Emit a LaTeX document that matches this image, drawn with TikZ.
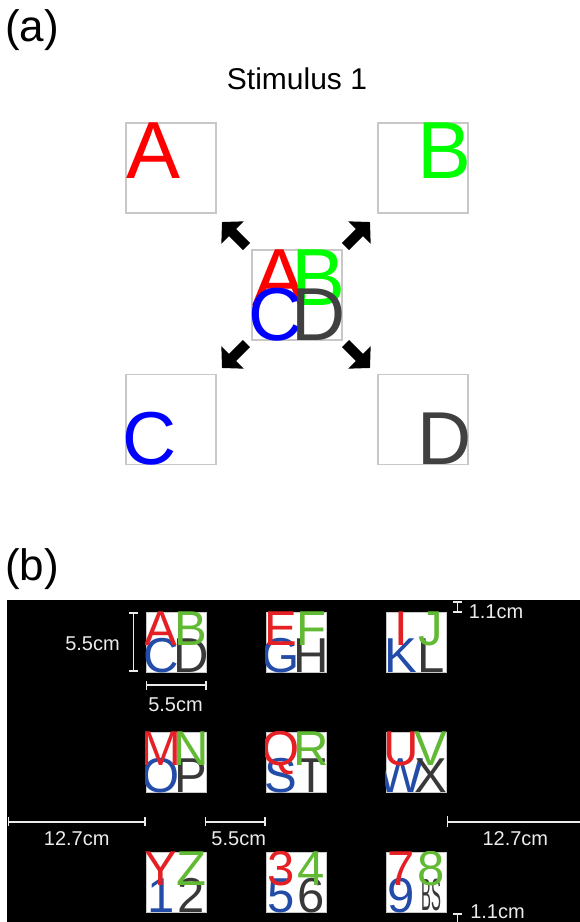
\documentclass[tikz,border=0pt]{standalone}
\usepackage{fontspec}
\usepackage{graphicx}
\setmainfont{Liberation Sans}
\usetikzlibrary{arrows.meta,calc}
\definecolor{ared}{RGB}{255,0,0}
\definecolor{agreen}{RGB}{0,255,0}
\definecolor{ablue}{RGB}{0,0,255}
\definecolor{adark}{RGB}{64,64,64}
\definecolor{bred}{RGB}{228,32,36}
\definecolor{bgreen}{RGB}{98,186,52}
\definecolor{bblue}{RGB}{34,76,168}
\definecolor{bdark}{RGB}{56,56,56}
\definecolor{boxgray}{RGB}{200,200,200}
\definecolor{dimwhite}{RGB}{235,235,235}
\newcommand\fsz[1]{\fontsize{#1}{#1}\selectfont}
\newcommand\mystim[7]{%
  \node[sbox] (#1) at (#2,#3) {};
  \begin{scope}
  \clip (#1.north west) rectangle (#1.south east);
  \node[blet, anchor=base,  text=bblue]  (#1bl) at ($(#1.south)+(-15,0)$) {#6};
  \node[blet, anchor=base,  text=bdark]  (#1br) at ($(#1.south)+(15,0)$) {#7};
  \node[blet, anchor=north, text=bred]   (#1tl) at ($(#1.north)+(-15,0)$) {#4};
  \node[blet, anchor=north, text=bgreen] (#1tr) at ($(#1.north)+(15,0)$) {#5};
  \end{scope}
}
\tikzset{
  abox/.style={draw=boxgray, line width=1.5pt, fill=white, minimum width=90pt, minimum height=90pt, inner sep=0pt},
  alett/.style={inner sep=0pt, outer sep=0pt, font=\fsz{81}},
  aletb/.style={inner sep=0pt, outer sep=0pt, font=\fsz{75}},
  bigarrow/.style={line width=10pt, -{Triangle[length=15pt,width=31pt]}, black},
  sbox/.style={draw=boxgray, line width=1pt, fill=white, minimum width=60pt, minimum height=60pt, inner sep=0pt},
  blet/.style={inner sep=0pt, outer sep=0pt, font=\fsz{49}},
  dimbar/.style={draw=dimwhite, line width=1.6pt, {Bar[width=9pt]}-{Bar[width=9pt]}},
  dimbarL/.style={draw=dimwhite, line width=1.6pt, {Bar[width=11pt]}-},
  dimlab/.style={text=dimwhite, font=\fsz{20}, inner sep=0pt, anchor=base},
  panlab/.style={font=\fsz{44}, inner sep=0pt, anchor=base west},
}
\begin{document}
\begin{tikzpicture}[x=1pt,y=-1pt]
\useasboundingbox (0,0) rectangle (580,922);
% ---------------- panel (a)
\node[panlab] (labA) at (5,41) {(a)};
\node[font=\fsz{30}, inner sep=0pt, anchor=base] (title) at (297,89) {Stimulus 1};
\node[abox] (boxA) at (171,168) {};
\node[abox] (boxB) at (423,168) {};
\node[abox] (boxC) at (171,419.5) {};
\node[abox] (boxD) at (423,419.5) {};
\node[abox] (boxM) at (297,295) {};
\node[alett, anchor=north west, text=ared]   (letA) at (126,123) {A};
\node[alett, anchor=north west, text=agreen] (letB) at (417,123) {B};
\node[aletb, anchor=base west, text=ablue]   (letC) at (122.3,464) {C};
\node[aletb, anchor=base west, text=adark]   (letD) at (417.4,464) {D};
\node[alett, anchor=north west, text=ared]   (mA) at (252,250) {A};
\node[alett, anchor=north west, text=agreen] (mB) at (291,250) {B};
\node[aletb, anchor=base west, text=ablue]   (mC) at (248.3,340) {C};
\node[aletb, anchor=base west, text=adark]   (mD) at (291.4,340) {D};
\coordinate (ulS) at (246.5,246.5); \coordinate (ulT) at (222,222);
\coordinate (urS) at (345.5,246.5); \coordinate (urT) at (370,222);
\coordinate (llS) at (246.5,343.5); \coordinate (llT) at (222,368);
\coordinate (lrS) at (345.5,343.5); \coordinate (lrT) at (370,368);
\draw[bigarrow] (ulS) -- (ulT);
\draw[bigarrow] (urS) -- (urT);
\draw[bigarrow] (llS) -- (llT);
\draw[bigarrow] (lrS) -- (lrT);
% ---------------- panel (b)
\node[panlab] (labB) at (5,580.7) {(b)};
\fill[black] (7.3,600) rectangle (580,922);
\mystim{s11}{176}{642}{A}{B}{C}{D}
\mystim{s12}{296}{642}{E}{F}{G}{H}
\mystim{s13}{416}{642}{I}{J}{K}{L}
\mystim{s21}{176}{762}{M}{N}{O}{P}
\mystim{s22}{296}{762}{Q}{R}{S}{T}
\mystim{s23}{416}{762}{U}{V}{W}{X}
\mystim{s31}{176}{882}{Y}{Z}{1}{2}
\mystim{s32}{296}{882}{3}{4}{5}{6}
\mystim{s33}{416}{882}{7}{8}{9}{\raisebox{2pt}{\fsz{45}\scalebox{0.33}[1]{BS}}}
% dimension bars
\coordinate (vT) at (133.3,612); \coordinate (vB) at (133.3,672);
\draw[dimbar] (vT) -- (vB);
\node[dimlab] (l55a) at (92.5,650) {5.5cm};
\coordinate (hL) at (145.5,685); \coordinate (hR) at (206.5,685);
\draw[dimbar] (hL) -- (hR);
\node[dimlab] (l55b) at (175.5,711.7) {5.5cm};
\coordinate (tT) at (457.3,601); \coordinate (tB) at (457.3,613);
\draw[dimbar] (tT) -- (tB);
\node[dimlab] (l11a) at (496,618) {1.1cm};
\coordinate (r0) at (7.5,821.7); \coordinate (r1) at (145.7,821.7);
\coordinate (r2) at (204.5,821.7); \coordinate (r3) at (265.7,821.7);
\coordinate (r4) at (446.7,821.7); \coordinate (r5) at (584,821.7);
\draw[dimbar] (r0) -- (r1);
\draw[dimbar] (r2) -- (r3);
\draw[dimbarL] (r4) -- (r5);
\node[dimlab] (l127a) at (76.7,845.7) {12.7cm};
\node[dimlab] (l55c) at (238.7,845.7) {5.5cm};
\node[dimlab] (l127b) at (515.3,845.7) {12.7cm};
\coordinate (bT) at (457.3,913) ; \coordinate (bB) at (457.3,925);
\draw[dimbar] (bT) -- (bB);
\node[dimlab] (l11b) at (497.5,918) {1.1cm};
\end{tikzpicture}
\end{document}
